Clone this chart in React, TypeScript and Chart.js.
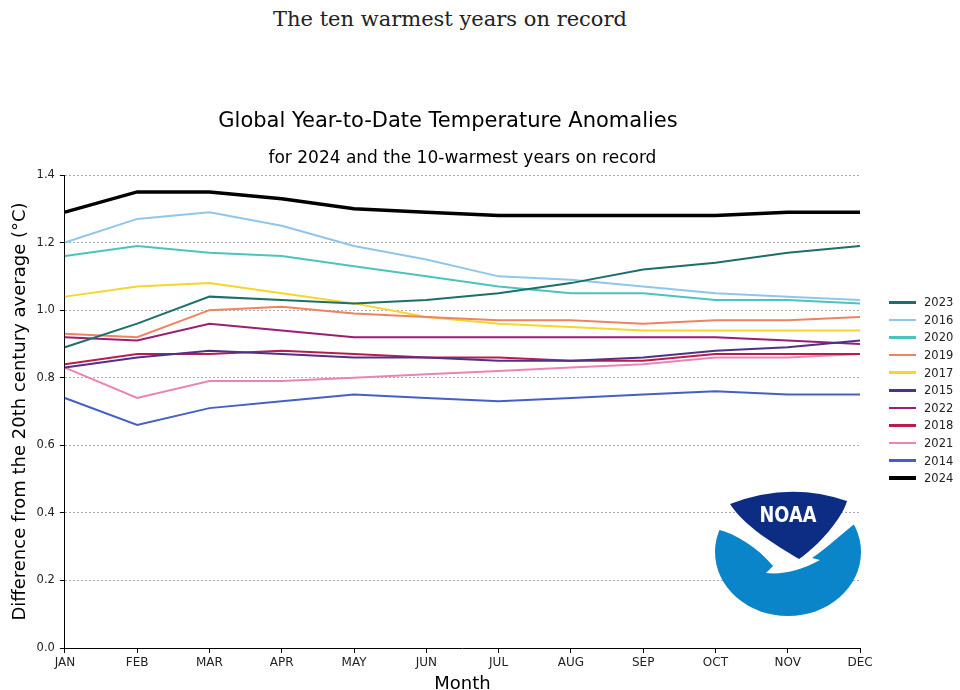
import React, { useEffect, useRef } from 'react';
import { Chart, registerables } from 'chart.js';

Chart.register(...registerables);

const FONT = 'DejaVu Sans';

const months = ['JAN', 'FEB', 'MAR', 'APR', 'MAY', 'JUN', 'JUL', 'AUG', 'SEP', 'OCT', 'NOV', 'DEC'];

const y2023 = [0.89, 0.96, 1.04, 1.03, 1.02, 1.03, 1.05, 1.08, 1.12, 1.14, 1.17, 1.19];
const y2016 = [1.2, 1.27, 1.29, 1.25, 1.19, 1.15, 1.1, 1.09, 1.07, 1.05, 1.04, 1.03];
const y2020 = [1.16, 1.19, 1.17, 1.16, 1.13, 1.1, 1.07, 1.05, 1.05, 1.03, 1.03, 1.02];
const y2019 = [0.93, 0.92, 1.0, 1.01, 0.99, 0.98, 0.97, 0.97, 0.96, 0.97, 0.97, 0.98];
const y2017 = [1.04, 1.07, 1.08, 1.05, 1.02, 0.98, 0.96, 0.95, 0.94, 0.94, 0.94, 0.94];
const y2015 = [0.83, 0.86, 0.88, 0.87, 0.86, 0.86, 0.85, 0.85, 0.86, 0.88, 0.89, 0.91];
const y2022 = [0.92, 0.91, 0.96, 0.94, 0.92, 0.92, 0.92, 0.92, 0.92, 0.92, 0.91, 0.9];
const y2018 = [0.84, 0.87, 0.87, 0.88, 0.87, 0.86, 0.86, 0.85, 0.85, 0.87, 0.87, 0.87];
const y2021 = [0.83, 0.74, 0.79, 0.79, 0.8, 0.81, 0.82, 0.83, 0.84, 0.86, 0.86, 0.87];
const y2014 = [0.74, 0.66, 0.71, 0.73, 0.75, 0.74, 0.73, 0.74, 0.75, 0.76, 0.75, 0.75];
const y2024 = [1.29, 1.35, 1.35, 1.33, 1.3, 1.29, 1.28, 1.28, 1.28, 1.28, 1.29, 1.29];

const seriesLabels = ['2023', '2016', '2020', '2019', '2017', '2015', '2022', '2018', '2021', '2014', '2024'];
const seriesValues = [y2023, y2016, y2020, y2019, y2017, y2015, y2022, y2018, y2021, y2014, y2024];
const seriesColors = [
  '#1d6f6a', '#90c6ec', '#4cc4bb', '#ec8463', '#f5d62a', '#4f3189',
  '#9c1d76', '#b81d4c', '#ec83b6', '#4560c4', '#000000',
];
const seriesWidths = [2, 2, 2, 2, 2, 2, 2, 2, 2, 2, 3.5];

const pageTitle = 'The ten warmest years on record';
const chartTitle = 'Global Year-to-Date Temperature Anomalies';
const chartSubtitle = 'for 2024 and the 10-warmest years on record';
const xTitle = 'Month';
const yTitle = 'Difference from the 20th century average (°C)';

function NoaaLogo() {
  return (
    <svg
      width={152}
      height={132}
      viewBox="0 0 152 132"
      style={{ position: 'absolute', left: 712, top: 486 }}
    >
      <defs>
        <clipPath id="noaaClip">
          <ellipse cx={76} cy={66} rx={73} ry={64} />
        </clipPath>
      </defs>
      <path
        clipPath="url(#noaaClip)"
        fill="#0a85c9"
        d="M -5,40 L 4,43 C 25,48 46,62 61,80 L 54,87 C 70,89 90,84 108,74 L 100,72 C 116,61 133,45 152,30 L 160,30 L 160,140 L -5,140 Z"
      />
      <path
        fill="#0d2c83"
        d="M 18,18 Q 77,-5 135,15 C 130,33 106,60 87,73 C 62,58 32,40 18,18 Z"
      />
      <text
        x={76}
        y={36}
        textAnchor="middle"
        fill="#ffffff"
        fontFamily={FONT}
        fontWeight="bold"
        fontSize={21}
        textLength={57}
        lengthAdjust="spacingAndGlyphs"
      >
        NOAA
      </text>
    </svg>
  );
}

export default function App() {
  const canvasRef = useRef<HTMLCanvasElement>(null);

  useEffect(() => {
    const canvas = canvasRef.current;
    if (!canvas) return;
    const chart = new Chart(canvas, {
      type: 'line',
      data: {
        labels: months,
        datasets: seriesLabels.map((label, i) => ({
          label,
          data: seriesValues[i],
          borderColor: seriesColors[i],
          backgroundColor: seriesColors[i],
          borderWidth: seriesWidths[i],
          pointRadius: 0,
          pointHoverRadius: 0,
          tension: 0,
          fill: false,
        })),
      },
      options: {
        animation: false,
        responsive: false,
        maintainAspectRatio: false,
        layout: { padding: { left: 96, right: 100, top: 0, bottom: 0 } },
        plugins: {
          legend: { display: false },
          tooltip: { enabled: false },
          title: {
            display: true,
            text: chartTitle,
            color: '#000',
            font: { family: FONT, size: 21, weight: 'normal' },
            padding: { top: 14.4, bottom: 14.2 },
          },
          subtitle: {
            display: true,
            fullSize: false,
            text: chartSubtitle,
            color: '#000',
            font: { family: FONT, size: 17, weight: 'normal' },
            padding: { top: 0, bottom: 5.8 },
          },
        },
        scales: {
          x: {
            type: 'category',
            offset: false,
            grid: {
              display: true,
              drawOnChartArea: false,
              drawTicks: true,
              tickLength: 5,
              tickColor: '#000',
            },
            border: { display: true, color: '#000', width: 1 },
            ticks: {
              color: '#222',
              font: { family: FONT, size: 12 },
              padding: 3,
              autoSkip: false,
              maxRotation: 0,
            },
            title: {
              display: true,
              text: xTitle,
              color: '#000',
              font: { family: FONT, size: 18 },
              padding: { top: 0, bottom: 0 },
            },
          },
          y: {
            min: 0,
            max: 1.4,
            ticks: {
              stepSize: 0.2,
              callback: (v: any) => Number(v).toFixed(1),
              color: '#222',
              font: { family: FONT, size: 11.5 },
              padding: 5,
            },
            grid: {
              color: (ctx: any) => (ctx.tick && ctx.tick.value === 0 ? 'rgba(0,0,0,0)' : '#aaaaaa'),
              lineWidth: 1,
              drawTicks: true,
              tickLength: 5,
              tickColor: '#000',
              tickBorderDash: [],
            },
            border: { display: true, color: '#000', width: 1, dash: [2, 2] },
            title: {
              display: true,
              text: yTitle,
              color: '#000',
              font: { family: FONT, size: 18 },
              padding: { top: -26, bottom: 0 },
            },
          },
        },
      } as any,
    });
    return () => chart.destroy();
  }, []);

  return (
    <div
      style={{
        position: 'fixed',
        left: 0,
        top: 0,
        width: 960,
        height: 690,
        overflow: 'hidden',
        background: '#fff',
      }}
    >
      <div
        style={{
          position: 'absolute',
          left: 0,
          top: 7,
          width: 900,
          textAlign: 'center',
          fontFamily: 'DejaVu Serif',
          fontSize: 21,
          lineHeight: 'normal',
          color: '#222',
        }}
      >
        {pageTitle}
      </div>
      <div style={{ position: 'absolute', left: -60, top: 95, width: 1020, height: 600 }}>
        <canvas ref={canvasRef} width={1020} height={600} style={{ width: 1020, height: 600 }} />
      </div>
      <div style={{ position: 'absolute', left: 889, top: 293.5 }}>
        {seriesLabels.map((label, i) => (
          <div key={label} style={{ display: 'flex', alignItems: 'center', height: 17.6 }}>
            <div
              style={{
                width: 27,
                height: seriesWidths[i] > 2 ? 4 : 2.5,
                background: seriesColors[i],
                marginRight: 8,
              }}
            />
            <span style={{ fontFamily: FONT, fontSize: 11.5, color: '#222', lineHeight: '12px' }}>{label}</span>
          </div>
        ))}
      </div>
      <NoaaLogo />
    </div>
  );
}
